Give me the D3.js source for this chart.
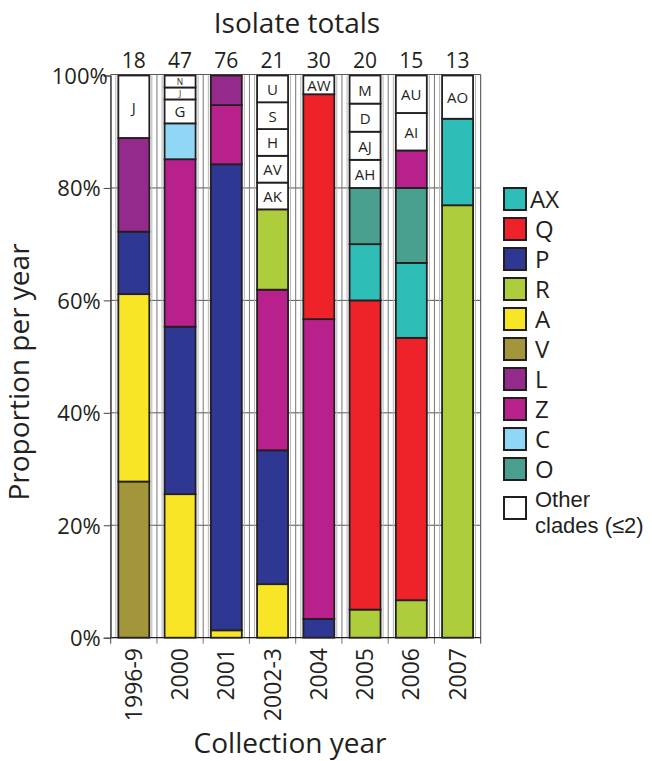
<!DOCTYPE html>
<html>
<head>
<meta charset="utf-8">
<script src="https://cdn.jsdelivr.net/npm/d3@7"></script>
<style>
  html, body { margin: 0; padding: 0; background: #fff; }
  svg { display: block; font-family: "Open Sans", "Liberation Sans", sans-serif; }
</style>
</head>
<body>
<svg id="chart" width="652" height="761"></svg>
<script>
// ---------------- data ----------------
const years = ["1996-9", "2000", "2001", "2002-3", "2004", "2005", "2006", "2007"];
const totals = [18, 47, 76, 21, 30, 20, 15, 13];

const cladeNames  = ["AX", "Q", "P", "R", "A", "V", "L", "Z", "C", "O"];
const cladeColors = ["#2fbdb7", "#ee2229", "#2e3792", "#aecd3c", "#f8e626", "#a39539", "#932a8c", "#b8208b", "#8fd7f5", "#4aa08f"];
const otherLabel = ["Other", "clades (\u22642)"];

// isolate counts per clade, stacked bottom -> top
const stack1996_9 = [["V", 5], ["A", 6], ["P", 2], ["L", 3], ["J", 2]];
const stack2000   = [["A", 12], ["P", 14], ["Z", 14], ["C", 3], ["G", 2], ["J", 1], ["N", 1]];
const stack2001   = [["A", 1], ["P", 63], ["Z", 8], ["L", 4]];
const stack2002_3 = [["A", 2], ["P", 5], ["Z", 6], ["R", 3], ["AK", 1], ["AV", 1], ["H", 1], ["S", 1], ["U", 1]];
const stack2004   = [["P", 1], ["Z", 16], ["Q", 12], ["AW", 1]];
const stack2005   = [["R", 1], ["Q", 11], ["AX", 2], ["O", 2], ["AH", 1], ["AJ", 1], ["D", 1], ["M", 1]];
const stack2006   = [["R", 1], ["Q", 7], ["AX", 2], ["O", 2], ["Z", 1], ["AI", 1], ["AU", 1]];
const stack2007   = [["R", 10], ["AX", 2], ["AO", 1]];
const stacks = [stack1996_9, stack2000, stack2001, stack2002_3, stack2004, stack2005, stack2006, stack2007];

const yTicks = [0, 0.2, 0.4, 0.6, 0.8, 1.0];

// ---------------- layout ----------------
const svg = d3.select("#chart");
const pLeft = 110.7, pRight = 480.7, pTop = 75.5, pBottom = 637.7;
const ink = "#231f20";

const x = d3.scaleBand().domain(years).range([pLeft, pRight]).paddingInner(0.33).paddingOuter(0.165);
const y = d3.scaleLinear().domain([0, 1]).range([pBottom, pTop]);
const color = d3.scaleOrdinal().domain(cladeNames).range(cladeColors).unknown("#ffffff");

// build segments
const segs = [];
stacks.forEach((st, i) => {
  const tot = totals[i];
  let cum = 0;
  st.forEach(([clade, n]) => {
    segs.push({ year: years[i], clade, y0: cum / tot, y1: (cum + n) / tot, other: !cladeNames.includes(clade) });
    cum += n;
  });
});

// grid: horizontal lines
const gGrid = svg.append("g");
gGrid.selectAll("line.h").data(yTicks.filter(t => t > 0 && t < 1)).join("line")
  .attr("x1", pLeft).attr("x2", pRight).attr("y1", d => y(d)).attr("y2", d => y(d))
  .attr("stroke", "#555").attr("stroke-width", 1);

// vertical boundaries
const step = x.step();
const bounds = d3.range(years.length + 1).map(i => pLeft + i * step);
gGrid.selectAll("line.v").data(bounds).join("line")
  .attr("x1", d => d).attr("x2", d => d).attr("y1", pTop - 1).attr("y2", pBottom + 6)
  .attr("stroke", (d, i) => (i === 0 || i === years.length) ? "#444" : "#777").attr("stroke-width", 1);

// light guide lines hugging each bar
gGrid.selectAll("line.s").data(years.flatMap(yr => [x(yr) - 2.5, x(yr) + x.bandwidth() + 2.5])).join("line")
  .attr("x1", d => d).attr("x2", d => d).attr("y1", pTop).attr("y2", pBottom)
  .attr("stroke", "#b5b5b5").attr("stroke-width", 1);

// frame top & bottom
gGrid.append("line").attr("x1", pLeft).attr("x2", pRight).attr("y1", pTop - 1).attr("y2", pTop - 1).attr("stroke", "#555");
gGrid.append("line").attr("x1", pLeft).attr("x2", pRight).attr("y1", pBottom).attr("y2", pBottom).attr("stroke", ink).attr("stroke-width", 1.2);

// bars
const gBars = svg.append("g");
gBars.selectAll("rect").data(segs).join("rect")
  .attr("x", d => x(d.year))
  .attr("width", x.bandwidth())
  .attr("y", d => y(d.y1))
  .attr("height", d => y(d.y0) - y(d.y1))
  .attr("fill", d => color(d.clade))
  .attr("stroke", ink).attr("stroke-width", 1.8);

// labels for other clades
gBars.selectAll("text").data(segs.filter(d => d.other)).join("text")
  .attr("x", d => x(d.year) + x.bandwidth() / 2)
  .attr("y", d => (y(d.y0) + y(d.y1)) / 2)
  .attr("text-anchor", "middle").attr("dominant-baseline", "central")
  .attr("font-size", d => (y(d.y0) - y(d.y1)) < 15 ? 8.5 : 15)
  .attr("fill", ink)
  .text(d => d.clade);

// y axis
const yAxis = d3.axisLeft(y).tickValues(yTicks).tickFormat(d3.format(".0%")).tickSize(7).tickPadding(3);
const gY = svg.append("g").attr("transform", `translate(${pLeft},0)`).call(yAxis);
gY.select(".domain").attr("stroke", "#444");
gY.selectAll(".tick line").attr("stroke", "#444");
gY.selectAll(".tick text").attr("font-size", 22).attr("font-family", "Open Sans").attr("fill", ink)
  .attr("dx", d => d === 1 ? 7 : 0).attr("dy", "0.36em");

// x labels (rotated)
svg.append("g").selectAll("text").data(years).join("text")
  .attr("transform", d => `translate(${x(d) + x.bandwidth() / 2 + 8},648) rotate(-90)`)
  .attr("text-anchor", "end").attr("font-size", 23).attr("fill", ink)
  .text(d => d);

// totals
svg.append("g").selectAll("text").data(totals).join("text")
  .attr("x", (d, i) => x(years[i]) + x.bandwidth() / 2)
  .attr("y", 68)
  .attr("text-anchor", "middle").attr("font-size", 21).attr("fill", ink)
  .text(d => d);

// titles
svg.append("text").attr("x", 297).attr("y", 33).attr("text-anchor", "middle")
  .attr("font-size", 28).attr("fill", ink).text("Isolate totals");
svg.append("text").attr("x", 290).attr("y", 753).attr("text-anchor", "middle")
  .attr("font-size", 28).attr("fill", ink).text("Collection year");
svg.append("text").attr("transform", "translate(29,372) rotate(-90)").attr("text-anchor", "middle")
  .attr("font-size", 28).attr("fill", ink).text("Proportion per year");

// legend
const gL = svg.append("g");
const legRows = gL.selectAll("g").data(cladeNames).join("g")
  .attr("transform", (d, i) => `translate(504,${188 + i * 30})`);
legRows.append("rect").attr("width", 22).attr("height", 22)
  .attr("fill", d => color(d)).attr("stroke", ink).attr("stroke-width", 2);
legRows.append("text").attr("x", d => d.length > 1 ? 26 : 31).attr("y", 11).attr("dy", "0.36em")
  .attr("font-size", 24).attr("fill", ink).text(d => d);

const gO = gL.append("g").attr("transform", "translate(504,497)");
gO.append("rect").attr("width", 22).attr("height", 22).attr("fill", "#fff").attr("stroke", ink).attr("stroke-width", 2);
gO.selectAll("text").data(otherLabel).join("text")
  .attr("x", 31).attr("y", (d, i) => 10 + i * 26)
  .attr("font-family", "Liberation Sans")
  .attr("font-size", 22).attr("fill", ink).text(d => d);
</script>
</body>
</html>
